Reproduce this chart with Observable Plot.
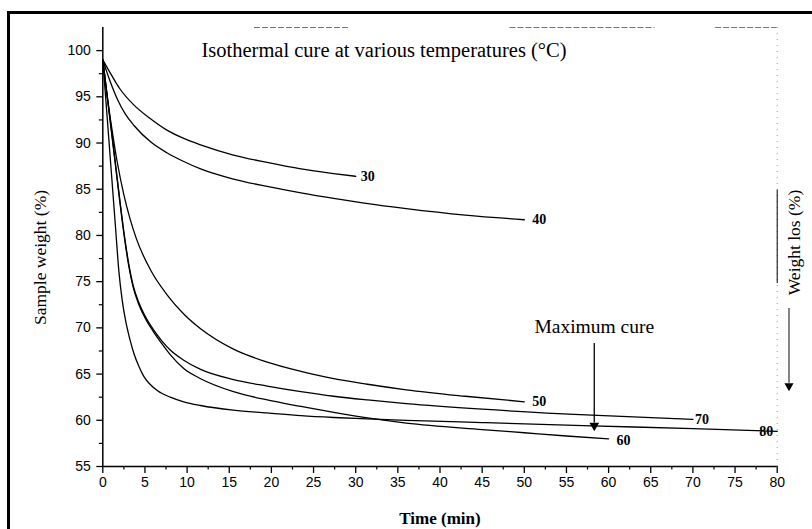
<!DOCTYPE html>
<html>
<head>
<meta charset="utf-8">
<script src="https://cdn.jsdelivr.net/npm/d3@7"></script>
<script src="https://cdn.jsdelivr.net/npm/@observablehq/plot@0.6"></script>
<style>
  html, body { margin: 0; padding: 0; background: white; }
  #wrap { position: relative; width: 812px; height: 529px; overflow: hidden; }
  #border { position: absolute; left: 7px; top: 11px; width: 820px; height: 540px;
            border-top: 3px solid black; border-left: 3px solid black; pointer-events: none; }
</style>
</head>
<body>
<div id="wrap"><div id="border"></div></div>
<script>
// ---- data ----
const t30 = [0, 1, 2, 3.7, 5.7, 7.6, 9.6, 11.6, 15.5, 19.5, 23.5, 27.4, 30];
const w30 = [99, 97.4, 95.9, 94.1, 92.6, 91.4, 90.5, 89.8, 88.7, 87.9, 87.2, 86.7, 86.4];

const t40 = [0, 0.9, 1.7, 2.7, 3.7, 5.7, 7.6, 9.6, 11.6, 15.5, 19.5, 23.5, 27.4, 31, 36, 43, 50];
const w40 = [99, 96.6, 94.8, 93.1, 91.9, 90.1, 88.95, 88.0, 87.2, 86.1, 85.3, 84.6, 84.0, 83.5, 82.9, 82.2, 81.7];

const t50 = [0, 0.5, 1, 1.7, 2.5, 3.2, 4, 5.7, 7.6, 9.6, 11.6, 15.5, 19.5, 23.5, 27.4, 31.4, 36, 43, 50];
const w50 = [99, 95.2, 92, 88, 84.4, 81.9, 79.6, 76.2, 73.6, 71.5, 69.9, 67.7, 66.3, 65.3, 64.5, 63.9, 63.3, 62.6, 62.0];

const t60 = [0, 0.5, 1, 1.5, 2, 2.5, 3.1, 3.6, 4.2, 5, 6, 7, 8, 9.6, 11.6, 15.5, 19.5, 23.5, 27.4, 31.4, 36, 45, 50, 55, 60];
const w60 = [99, 95.2, 91.4, 87.6, 83.8, 80.2, 76.6, 74.4, 72.7, 71.1, 69.6, 68.3, 67.1, 65.6, 64.5, 63.1, 62.2, 61.5, 60.85, 60.25, 59.7, 59.0, 58.65, 58.3, 58.0];

const t70 = [0, 0.5, 1, 1.5, 2, 2.5, 3.1, 3.6, 4.2, 5, 6, 7, 8, 9.6, 11.6, 15.5, 19.5, 23.5, 27.4, 31.4, 36, 45, 58, 70];
const w70 = [99, 95.3, 91.6, 87.8, 84.0, 80.4, 76.8, 74.6, 72.9, 71.3, 69.8, 68.6, 67.6, 66.5, 65.5, 64.4, 63.7, 63.1, 62.6, 62.2, 61.8, 61.2, 60.55, 60.1];

const t80 = [0, 0.5, 1, 1.5, 1.9, 2.3, 2.7, 3.2, 3.7, 4.3, 4.9, 5.6, 6.5, 8, 9.6, 11.6, 15.5, 19.5, 23.5, 27.4, 31.4, 36, 45, 58, 70, 80];
const w80 = [99, 93, 87, 81, 76.2, 73, 70.8, 68.8, 67.2, 65.8, 64.7, 63.9, 63.2, 62.5, 62.0, 61.6, 61.1, 60.8, 60.5, 60.3, 60.15, 60.0, 59.75, 59.4, 59.1, 58.8];

const seriesNames = ["30", "40", "50", "60", "70", "80"];
const labelDx = [5, 8, 8, 8, 2, -11];
const labelDy = [0, 0, 0, 2, 0, 0];
const labelAnchor = ["start", "start", "start", "start", "start", "middle"];

const xTicks = [0, 5, 10, 15, 20, 25, 30, 35, 40, 45, 50, 55, 60, 65, 70, 75, 80];
const xMinor = [2.5, 7.5, 12.5, 17.5, 22.5, 27.5, 32.5, 37.5, 42.5, 47.5, 52.5, 57.5, 62.5, 67.5, 72.5, 77.5];
const yTicks = [55, 60, 65, 70, 75, 80, 85, 90, 95, 100];
const yMinor = [57.5, 62.5, 67.5, 72.5, 77.5, 82.5, 87.5, 92.5, 97.5];

const titleText = "Isothermal cure at various temperatures (°C)";
const xLabel = "Time (min)";
const yLabel = "Sample weight (%)";
const rightLabel = "Weight los (%)";
const cureText = "Maximum cure";
const cureT = 58.3, cureTop = 68.3, cureTip = 59.1;
const lossT = 81.4, lossTop = 72.1, lossTip = 63.4;
// faint scan-frame segments (top edge: [t1,t2])
const topSegs = [[18, 29.4], [48.3, 65.5], [72.7, 80]];
const rightSolid = [74.8, 84.9];

// ---- build table ----
const ts = [t30, t40, t50, t60, t70, t80];
const ws = [w30, w40, w50, w60, w70, w80];
const rows = [];
seriesNames.forEach((s, i) => ts[i].forEach((t, j) => rows.push({series: s, t, w: ws[i][j]})));
const ends = seriesNames.map((s, i) => ({series: s, t: ts[i][ts[i].length - 1], w: ws[i][ws[i].length - 1],
  dx: labelDx[i], dy: labelDy[i], anchor: labelAnchor[i]}));

const yMax = 102.5;

const chart = Plot.plot({
  width: 812,
  height: 529,
  marginLeft: 102.3,
  marginRight: 35.3,
  marginTop: 27,
  marginBottom: 63,
  x: {domain: [0, 80], axis: null},
  y: {domain: [55, yMax], axis: null},
  style: {background: "transparent", fontFamily: "Liberation Serif", color: "black"},
  marks: [
    // faint scanned frame
    Plot.ruleY(topSegs, {y: () => yMax, x1: d => d[0], x2: d => d[1], stroke: "#777", strokeWidth: 1, strokeDasharray: "6,2"}),
    Plot.ruleX([80], {y1: 55, y2: yMax, stroke: "#999", strokeWidth: 1, strokeDasharray: "1,5"}),
    Plot.ruleX([80], {y1: rightSolid[0], y2: rightSolid[1], stroke: "black", strokeWidth: 1}),
    // axes
    Plot.axisX(xTicks, {tickSize: 7, tickPadding: 4, fontSize: 14, fontFamily: "Liberation Sans", label: null, strokeWidth: 1.3}),
    Plot.axisX(xMinor, {tickSize: 3.5, tickFormat: () => "", label: null, strokeWidth: 1.2}),
    Plot.axisY(yTicks, {tickSize: 6, tickPadding: 6, fontSize: 14, fontFamily: "Liberation Sans", label: null, strokeWidth: 1.3}),
    Plot.axisY(yMinor, {tickSize: 3.5, tickFormat: () => "", label: null, strokeWidth: 1.2}),
    Plot.ruleX([0], {y1: 55, y2: yMax, strokeWidth: 1.5}),
    Plot.ruleY([55], {x1: 0, x2: 80, strokeWidth: 1.5}),
    // curves
    Plot.line(rows, {x: "t", y: "w", z: "series", curve: "monotone-x", stroke: "black", strokeWidth: 1.3}),
    ...ends.map(e => Plot.text([e], {x: "t", y: "w", text: "series", dx: e.dx, dy: e.dy,
      textAnchor: e.anchor, fontWeight: "bold", fontSize: 14, fontFamily: "Liberation Serif"})),
    // maximum cure arrow
    Plot.ruleX([cureT], {y1: cureTop, y2: cureTip + 0.6, strokeWidth: 1.3}),
    Plot.dot([cureT], {x: d => d, y: () => cureTip, symbol: "triangle", rotate: 180, r: 3.6, fill: "black", stroke: null, dy: -3}),
    Plot.text([cureText], {x: () => cureT, y: () => cureTop, dy: -17, fontSize: 19.5, fontFamily: "Liberation Serif"}),
    // weight loss arrow (outside frame)
    Plot.ruleX([lossT], {y1: lossTop, y2: lossTip + 0.6, strokeWidth: 1.2, stroke: "#333"}),
    Plot.dot([lossT], {x: d => d, y: () => lossTip, symbol: "triangle", rotate: 180, r: 3.4, fill: "black", stroke: null, dy: -3}),
    // titles / labels
    Plot.text([titleText], {frameAnchor: "top", textAnchor: "middle", lineAnchor: "middle", dx: -56, dy: 23, fontSize: 20.5, fontFamily: "Liberation Serif"}),
    Plot.text([xLabel], {frameAnchor: "bottom", textAnchor: "middle", lineAnchor: "middle", dx: 0, dy: 52, fontSize: 17, fontWeight: "bold", fontFamily: "Liberation Serif"}),
    Plot.text([yLabel], {frameAnchor: "left", textAnchor: "middle", lineAnchor: "middle", rotate: -90, dx: -62, dy: 10.5, fontSize: 17.5, fontFamily: "Liberation Serif"}),
    Plot.text([rightLabel], {frameAnchor: "right", textAnchor: "middle", lineAnchor: "middle", rotate: -90, dx: 17, dy: -4.5, fontSize: 17.5, fontFamily: "Liberation Serif"})
  ]
});
document.getElementById("wrap").insertBefore(chart, document.getElementById("border"));
</script>
</body>
</html>
